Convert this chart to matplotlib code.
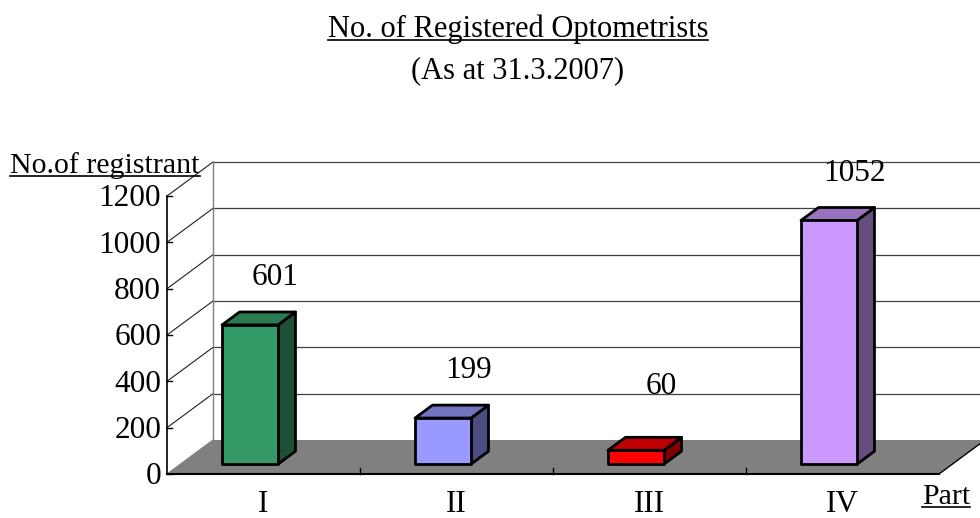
import matplotlib
matplotlib.use("Agg")
import matplotlib.pyplot as plt
from matplotlib.patches import Polygon
from matplotlib.lines import Line2D

# data
parts = ["I", "II", "III", "IV"]
registrants = [601, 199, 60, 1052]
yticks = [0, 200, 400, 600, 800, 1000, 1200]
front_colors = ["#339966", "#9999ff", "#ff0000", "#cc99ff"]
top_colors = ["#2a7a52", "#7373c0", "#c00000", "#9973bf"]
side_colors = ["#1e5035", "#4c4c80", "#800000", "#664d80"]

plt.rcParams['font.family'] = ['Liberation Serif', 'DejaVu Serif']

W, H = 980, 518
fig = plt.figure(figsize=(W / 100, H / 100), dpi=100)
ax = fig.add_axes([0, 0, 1, 1])

# front plane mapping: category unit = 193 px, value scale 278 px per 1200
X0, Y0 = 167, 474
PX_CAT = 193.0
PX_VAL = 278.0 / 1200
ax.set_xlim(-X0 / PX_CAT, (W - X0) / PX_CAT)
ax.set_ylim(-(H - Y0) / PX_VAL, Y0 / PX_VAL)
ax.axis('off')

# depth vector (full depth of the box)
DX = 46 / PX_CAT
DY = 34 / PX_VAL
n = len(parts)
ymax = yticks[-1]


def shift(x, y, f):
    return (x + f * DX, y + f * DY)


# floor
floor = Polygon([shift(0, 0, 0), shift(n, 0, 0), shift(n, 0, 1), shift(0, 0, 1)],
                closed=True, facecolor="#808080", edgecolor="none", zorder=1)
ax.add_patch(floor)
ax.plot([n, n + DX * 1.2], [0, DY * 1.2], color="black", lw=1, zorder=2, clip_on=False)

# back wall grid lines and left wall diagonals
for v in yticks[1:]:
    ax.plot([DX, n + DX * 1.5], [v + DY, v + DY], color="#404040", lw=0.9, zorder=1)
    ax.plot([0, DX], [v, v + DY], color="#202020", lw=0.8, zorder=1)
ax.plot([DX, DX], [DY, ymax + DY], color="#808080", lw=1, zorder=1)
ax.plot([0, DX], [0, DY], color="#808080", lw=0.8, zorder=1)

# axes lines
ax.plot([0, 0], [0, ymax], color="black", lw=1.2, zorder=3)
ax.plot([0, n], [0, 0], color="black", lw=1.5, zorder=3)
for v in yticks:
    ax.plot([0, 5 / PX_CAT], [v, v], color="black", lw=1, zorder=3)
    ax.text(-6 / PX_CAT, v - 12, str(v), ha="right", va="center", fontsize=22.5)
for i in range(1, n):
    ax.plot([i, i], [0, 6 / PX_VAL], color="black", lw=1, zorder=3)

# bars
f1, f2 = 0.29, 0.67
bw = 0.29
off = 0.216
for i, v in enumerate(registrants):
    xl = i + off
    xr = xl + bw
    front = [shift(xl, 0, f1), shift(xr, 0, f1), shift(xr, v, f1), shift(xl, v, f1)]
    top = [shift(xl, v, f1), shift(xr, v, f1), shift(xr, v, f2), shift(xl, v, f2)]
    side = [shift(xr, 0, f1), shift(xr, 0, f2), shift(xr, v, f2), shift(xr, v, f1)]
    for pts, c in [(side, side_colors[i]), (top, top_colors[i]), (front, front_colors[i])]:
        ax.add_patch(Polygon(pts, closed=True, facecolor=c, edgecolor="black",
                             lw=2, joinstyle="round", zorder=4))
    ly = max(v, 130) + DY + 100
    ax.text(i + 0.56, ly, str(v), ha="center", va="center", fontsize=22.5, zorder=5)
    ax.text(i + 0.5, -132, parts[i], ha="center", va="center", fontsize=22.5)

# titles and axis names
t1 = fig.text(518 / W, 1 - 37 / H, "No. of Registered Optometrists", ha="center",
              va="baseline", fontsize=22)
t2 = fig.text(518 / W, 1 - 71 / H, "(As at 31.3.2007)", ha="center",
              va="center", fontsize=22)
t3 = fig.text(10 / W, 1 - 173 / H, "No.of registrant", ha="left",
              va="baseline", fontsize=21.5)
t4 = fig.text(946 / W, 1 - 504 / H, "Part", ha="center",
              va="baseline", fontsize=21.5)

fig.canvas.draw()
r = fig.canvas.get_renderer()
for t in (t1, t3, t4):
    bb = t.get_window_extent(r)
    yb = t.get_position()[1] * H - 3
    fig.add_artist(Line2D([bb.x0 / W, bb.x1 / W], [yb / H, yb / H],
                          color="black", lw=1.2, transform=fig.transFigure))

fig.savefig("out.png", dpi=100)
